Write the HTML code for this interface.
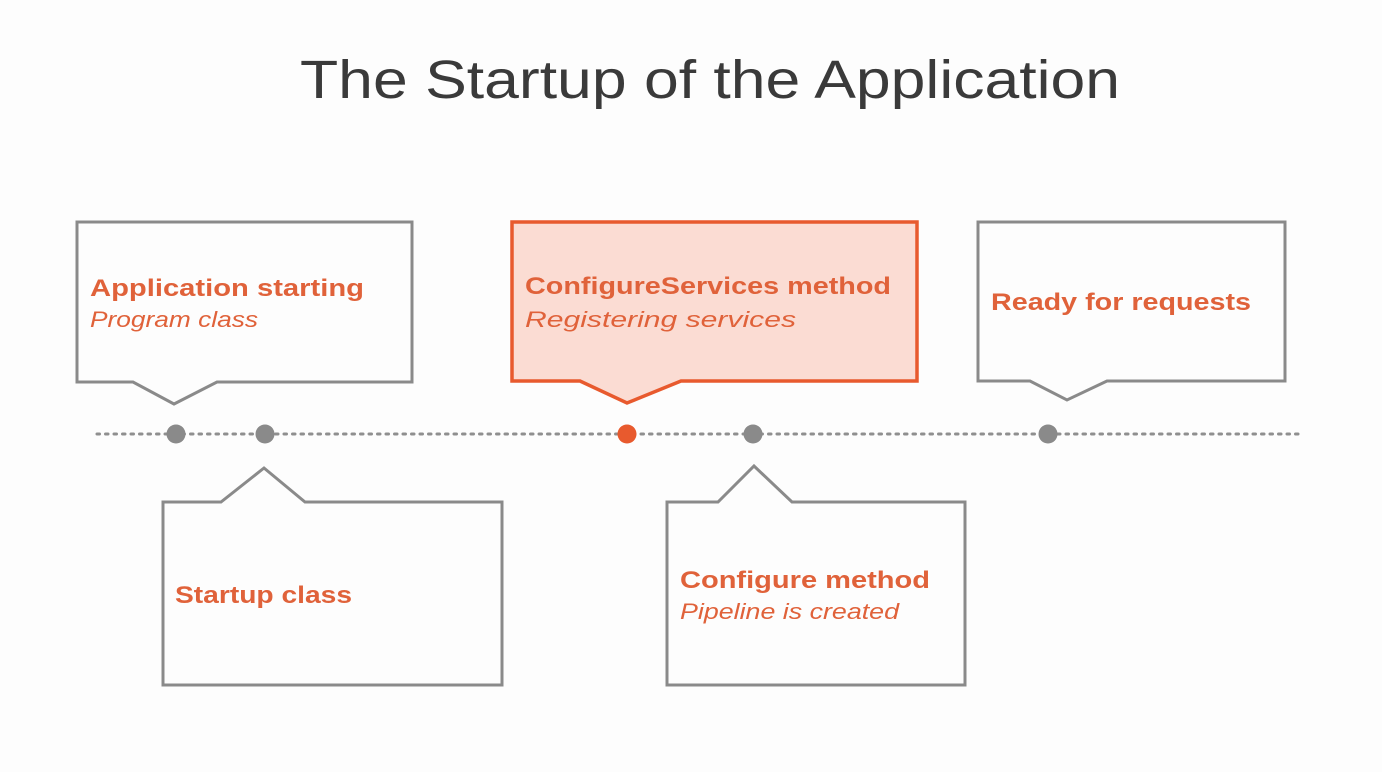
<!DOCTYPE html>
<html><head><meta charset="utf-8"><style>
html,body{margin:0;padding:0;background:#fdfdfd;}
svg{display:block}
.t{font-family:"Liberation Sans",sans-serif;fill:#e0623a;}
.b{font-weight:bold;font-size:24px;}
.i{font-style:italic;font-size:22px;}
</style></head><body>
<svg width="1382" height="772" viewBox="0 0 1382 772" xmlns="http://www.w3.org/2000/svg">
<rect width="1382" height="772" fill="#fdfdfd"/>
<text x="300" y="98" textLength="820" lengthAdjust="spacingAndGlyphs" font-family="Liberation Sans,sans-serif" font-size="54" fill="#3a3a3a">The Startup of the Application</text>
<line x1="97" y1="434" x2="1303" y2="434" stroke="#8f8f8f" stroke-width="3" stroke-dasharray="2.5 6" stroke-linecap="round"/>
<g fill="none" stroke="#8a8a8a" stroke-width="3" stroke-linejoin="miter">
<path d="M77 222 H412 V382 H217 L174 404 L133 382 H77 Z" fill="#fdfdfd"/>
<path d="M163 502 H221 L264 468 L305 502 H502 V685 H163 Z" fill="#fdfdfd"/>
<path d="M667 502 H718 L754 466 L792 502 H965 V685 H667 Z" fill="#fdfdfd"/>
<path d="M978 222 H1285 V381 H1107 L1067 400 L1030 381 H978 Z" fill="#fdfdfd"/>
</g>
<path d="M512 222 H917 V381 H681 L627 403 L580 381 H512 Z" fill="#fbdcd3" stroke="#e85a2e" stroke-width="3.5"/>
<g fill="#8a8a8a">
<circle cx="176" cy="434" r="9.5"/><circle cx="265" cy="434" r="9.5"/>
<circle cx="753" cy="434" r="9.5"/><circle cx="1048" cy="434" r="9.5"/>
</g>
<circle cx="627" cy="434" r="9.5" fill="#e85a2e"/>
<text class="t b" x="90" y="296" textLength="274" lengthAdjust="spacingAndGlyphs">Application starting</text>
<text class="t i" x="90" y="327" textLength="168" lengthAdjust="spacingAndGlyphs">Program class</text>
<text class="t b" x="525" y="294" textLength="366" lengthAdjust="spacingAndGlyphs">ConfigureServices method</text>
<text class="t i" x="525" y="327" textLength="271" lengthAdjust="spacingAndGlyphs">Registering services</text>
<text class="t b" x="991" y="310" textLength="260" lengthAdjust="spacingAndGlyphs">Ready for requests</text>
<text class="t b" x="175" y="603" textLength="177" lengthAdjust="spacingAndGlyphs">Startup class</text>
<text class="t b" x="680" y="588" textLength="250" lengthAdjust="spacingAndGlyphs">Configure method</text>
<text class="t i" x="680" y="619" textLength="219" lengthAdjust="spacingAndGlyphs">Pipeline is created</text>
</svg>
</body></html>
